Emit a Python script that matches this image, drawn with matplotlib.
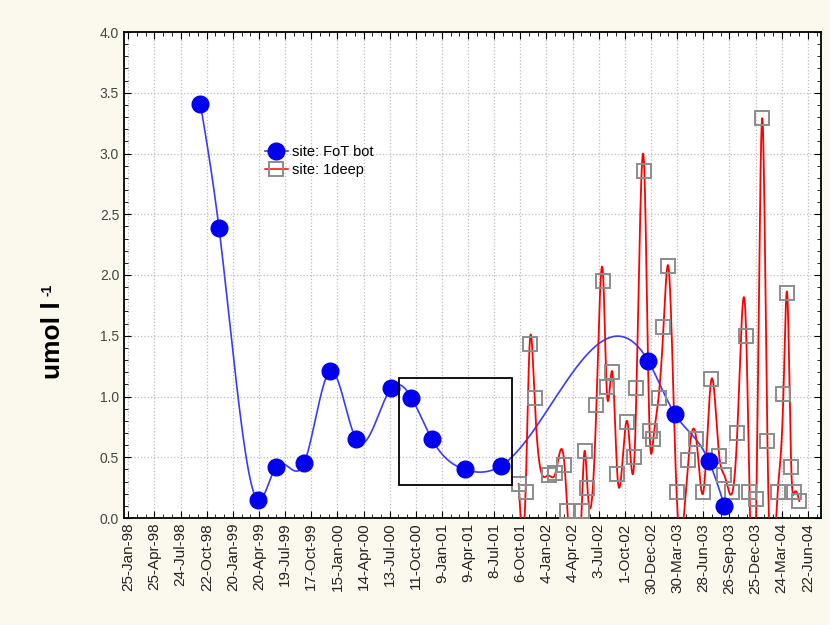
import matplotlib
matplotlib.use("Agg")
import matplotlib.pyplot as plt
import matplotlib.dates as mdates
from matplotlib.lines import Line2D
from matplotlib.patches import Rectangle
from matplotlib.ticker import FixedLocator, MultipleLocator
import numpy as np
import pandas as pd

plt.rcParams['font.family'] = ['Liberation Sans', 'DejaVu Sans']

# x tick labels (every 90 days)
tick_labels = ["25-Jan-98", "25-Apr-98", "24-Jul-98", "22-Oct-98", "20-Jan-99",
               "20-Apr-99", "19-Jul-99", "17-Oct-99", "15-Jan-00", "14-Apr-00",
               "13-Jul-00", "11-Oct-00", "9-Jan-01", "9-Apr-01", "8-Jul-01",
               "6-Oct-01", "4-Jan-02", "4-Apr-02", "3-Jul-02", "1-Oct-02",
               "30-Dec-02", "30-Mar-03", "28-Jun-03", "26-Sep-03", "25-Dec-03",
               "24-Mar-04", "22-Jun-04"]

# site: FoT bot
fot_dates = ["1998-09-30", "1998-12-03", "1999-04-15", "1999-06-17", "1999-09-22",
             "1999-12-22", "2000-03-19", "2000-07-19", "2000-09-26", "2000-12-05",
             "2001-03-28", "2001-08-01", "2002-12-21", "2003-03-21", "2003-07-17",
             "2003-09-09"]
fot_vals = [3.41, 2.39, 0.15, 0.42, 0.45, 1.21, 0.65, 1.07, 0.99, 0.65,
            0.40, 0.43, 1.29, 0.86, 0.47, 0.10]

# site: 1deep
deep_dates = ["2001-09-30", "2001-10-24", "2001-11-07", "2001-11-24", "2002-01-11",
              "2002-02-04", "2002-03-07", "2002-03-17", "2002-05-05", "2002-05-15",
              "2002-05-25", "2002-06-25", "2002-07-19", "2002-07-30", "2002-08-19",
              "2002-09-05", "2002-10-10", "2002-11-03", "2002-11-10", "2002-12-07",
              "2002-12-25", "2003-01-07", "2003-01-25", "2003-02-11", "2003-02-28",
              "2003-03-28", "2003-05-08", "2003-06-04", "2003-06-28", "2003-07-26",
              "2003-08-22", "2003-09-09", "2003-10-06", "2003-10-23", "2003-11-23",
              "2003-12-04", "2003-12-28", "2004-01-17", "2004-02-04", "2004-03-10",
              "2004-03-30", "2004-04-12", "2004-04-26", "2004-05-07", "2004-05-24"]
deep_vals = [0.28, 0.21, 1.43, 0.99, 0.35, 0.37, 0.44, 0.06, 0.06, 0.55,
             0.25, 0.93, 1.95, 1.08, 1.20, 0.36, 0.79, 0.50, 1.07, 2.86,
             0.72, 0.65, 0.99, 1.57, 2.07, 0.21, 0.48, 0.65, 0.21, 1.14,
             0.51, 0.35, 0.21, 0.70, 1.50, 0.21, 0.16, 3.29, 0.63, 0.21,
             1.02, 1.85, 0.42, 0.21, 0.14]

# boxed region
box_start, box_end = "2000-08-13", "2001-09-06"
box_low, box_high = 0.27, 1.155


def spline(x, y, xs):
    # natural cubic spline
    n = len(x)
    h = np.diff(x)
    A = np.zeros((n, n))
    r = np.zeros(n)
    A[0, 0] = A[-1, -1] = 1
    for i in range(1, n - 1):
        A[i, i - 1] = h[i - 1]
        A[i, i] = 2 * (h[i - 1] + h[i])
        A[i, i + 1] = h[i]
        r[i] = 3 * ((y[i + 1] - y[i]) / h[i] - (y[i] - y[i - 1]) / h[i - 1])
    c = np.linalg.solve(A, r)
    b = (y[1:] - y[:-1]) / h - h * (2 * c[:-1] + c[1:]) / 3
    d = (c[1:] - c[:-1]) / (3 * h)
    idx = np.clip(np.searchsorted(x, xs) - 1, 0, n - 2)
    dx = xs - x[idx]
    return y[idx] + b[idx] * dx + c[idx] * dx ** 2 + d[idx] * dx ** 3


ticks = mdates.date2num(pd.to_datetime(tick_labels, format="%d-%b-%y"))
fx = mdates.date2num(pd.to_datetime(fot_dates))
fy = np.array(fot_vals)
dx = mdates.date2num(pd.to_datetime(deep_dates))
dy = np.array(deep_vals)

fig = plt.figure(figsize=(8.3, 6.25), dpi=100, facecolor="#fbf8ee")
ax = fig.add_axes([0.1494, 0.1712, 0.8396, 0.7776])
ax.set_facecolor("white")

xs = np.linspace(fx[0], fx[-1], 1500)
ax.plot(xs, spline(fx, fy, xs), color="#3a3aff", lw=1.2, zorder=2)
ax.plot(fx, fy, "o", color="#0000f0", ms=12, zorder=4)

xs2 = np.linspace(dx[0], dx[-1], 3000)
ax.plot(xs2, spline(dx, dy, xs2), color="#ff0000", lw=1.3, zorder=3)
ax.plot(dx, dy, "s", mfc="none", mec="#8c8c8c", ms=10, mew=1.4, zorder=3)

x0, x1 = mdates.date2num(pd.to_datetime([box_start, box_end]))
ax.add_patch(Rectangle((x0, box_low), x1 - x0, box_high - box_low,
                       fill=False, ec="black", lw=1.3, zorder=5))

ax.set_xlim(ticks[0] - 15, ticks[-1] + 45)
ax.set_ylim(0, 4.0)
ax.xaxis.set_major_locator(FixedLocator(ticks))
ax.set_xticklabels(tick_labels, rotation=90, fontsize=11, color="#222222")
ax.xaxis.set_minor_locator(FixedLocator(np.arange(ticks[0], ticks[-1] + 45, 30)))
ax.yaxis.set_minor_locator(MultipleLocator(0.1))
ax.set_yticks(np.arange(0, 4.01, 0.5))
ax.set_yticklabels(["%.1f" % v for v in np.arange(0, 4.01, 0.5)], fontsize=10, color="#444444")
ax.tick_params(which="both", direction="in", top=True, right=True)
ax.tick_params(which="major", length=5)
ax.tick_params(which="minor", length=3)
ax.grid(True, which="major", ls=":", color="#bdbdbd", lw=0.9)
for s in ax.spines.values():
    s.set_linewidth(1.3)

# y axis title with small superscript
fig.text(53 / 830, 1 - 340 / 625, "umol l", rotation=90, ha="center", va="center",
         fontsize=19, fontweight="bold")
fig.text(47 / 830, 1 - 290 / 625, "-1", rotation=90, ha="center", va="center",
         fontsize=10, fontweight="bold")

handles = [Line2D([], [], color="#3a3aff", lw=1.2, marker="o", ms=12, mfc="#0000f0", mec="#0000f0"),
           Line2D([], [], color="#ff0000", lw=1.1, marker="s", ms=10, mfc="none", mec="#8c8c8c", mew=1.4)]
ax.legend(handles, ["site: FoT bot", "site: 1deep"], loc="upper left",
          bbox_to_anchor=(0.183, 0.795), frameon=False, fontsize=10.5,
          handlelength=1.6, handletextpad=0.3, labelspacing=0.3)

fig.savefig("out.png", dpi=100, facecolor=fig.get_facecolor())
